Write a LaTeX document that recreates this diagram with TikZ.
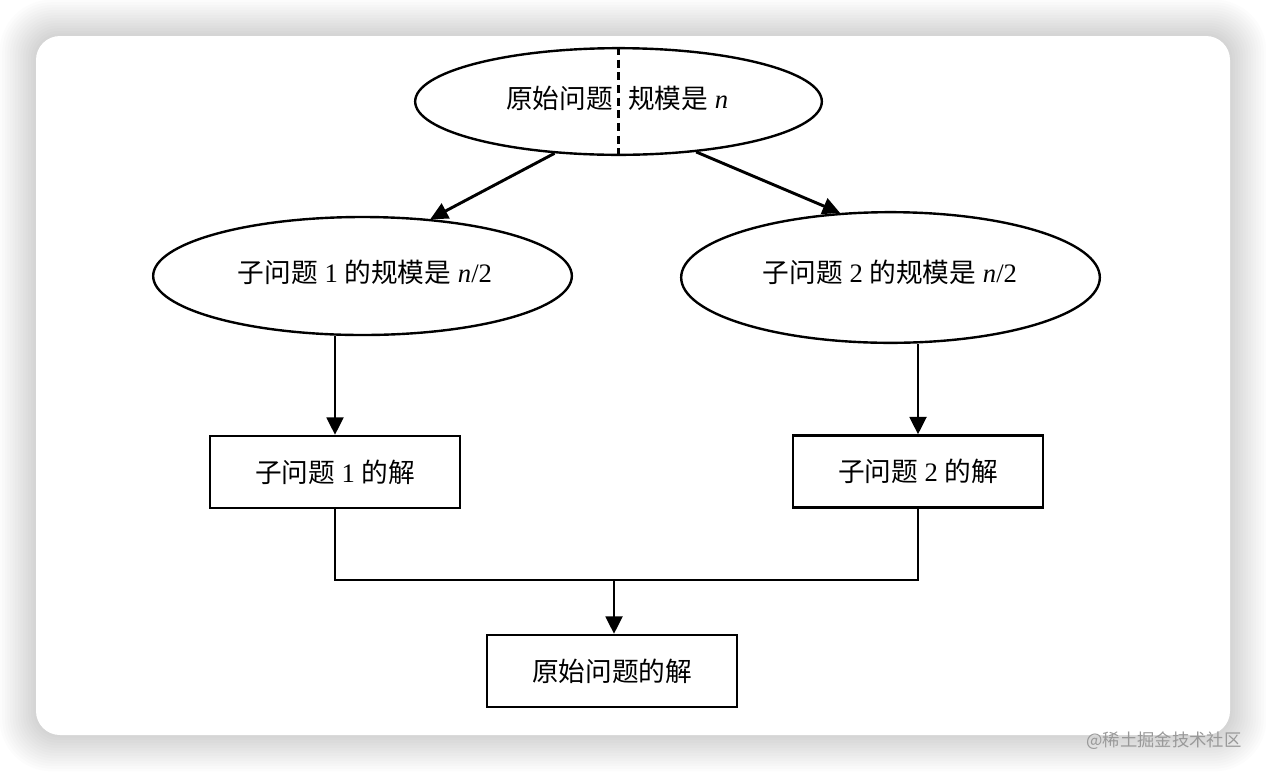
\documentclass[tikz,border=0pt]{standalone}
\usepackage{fontspec}
\setmainfont{Liberation Serif}
\newfontfamily\cnfont{Noto Sans CJK SC}
\usetikzlibrary{shapes.geometric,arrows.meta}

\tikzset{
  oval/.style={draw, ellipse, line width=1.8pt, inner sep=0pt},
  solbox/.style={draw, rectangle, line width=1.8pt, minimum width=187.5pt, minimum height=54pt, inner sep=0pt},
  lbl/.style={font=\fontsize{20}{24}\selectfont, inner sep=0pt},
}

\begin{document}
\begin{tikzpicture}[x=0.75pt, y=-0.75pt, >={Triangle[length=13pt,width=12.5pt]}]

% card with a soft shadow
\useasboundingbox (0,0) rectangle (1266,772);
\fill[white] (0,0) rectangle (1266,772);
\foreach \i in {1,...,14}
  \fill[black, opacity=0.012, rounded corners=18pt+1.5pt*\i]
    (36-2.6*\i,36-2.6*\i) rectangle (1230+2.6*\i,735+2.6*\i);
\fill[white, rounded corners=18pt] (36,36) rectangle (1230,735);

% the problem and its halves
\node[oval, minimum width=305pt, minimum height=80pt] (orig) at (618.5,101.5) {};
\draw[line width=1.6pt, dash pattern=on 6pt off 3.5pt] (orig.north) -- (orig.south);
\node[lbl, anchor=east] (origL) at (613,98) {\cnfont 原始问题};
\node[lbl, anchor=west] (origR) at (628,98) {{\cnfont 规模是} \textit{n}};

\node[oval, minimum width=314pt, minimum height=88.5pt] (sub1) at (362.5,276) {};
\node[lbl] at (365,272) {{\cnfont 子问题} 1 {\cnfont 的规模是} \textit{n}/2};
\node[oval, minimum width=314pt, minimum height=98pt] (sub2) at (890.5,277.5) {};
\node[lbl] at (890,272) {{\cnfont 子问题} 2 {\cnfont 的规模是} \textit{n}/2};

% the solutions
\node[solbox, lbl] (sol1) at (335,472) {{\cnfont 子问题} 1 {\cnfont 的解}};
\node[solbox, lbl] (sol2) at (918,471.5) {{\cnfont 子问题} 2 {\cnfont 的解}};
\node[solbox, lbl] (final) at (612,671) {\cnfont 原始问题的解};
\coordinate (join) at (614,580);

% arrows
\draw[->, line width=2.2pt] (orig.219) -- (sub1.40);
\draw[->, line width=2.2pt] (orig.327) -- (sub2.128);
\draw[->, line width=2.2pt] (sub1.south -| sol1.north) -- (sol1.north);
\draw[->, line width=2.2pt] (sub2.south -| sol2.north) -- (sol2.north);
\draw[line width=1.5pt] (sol1.south) |- (join) -| (sol2.south);
\draw[->, line width=2.2pt] (join) -- (final.north -| join);

% watermark
\node[font=\cnfont\fontsize{13}{15}\selectfont, text=gray!80] (mark) at (1164,741) {@稀土掘金技术社区};
\end{tikzpicture}
\end{document}
